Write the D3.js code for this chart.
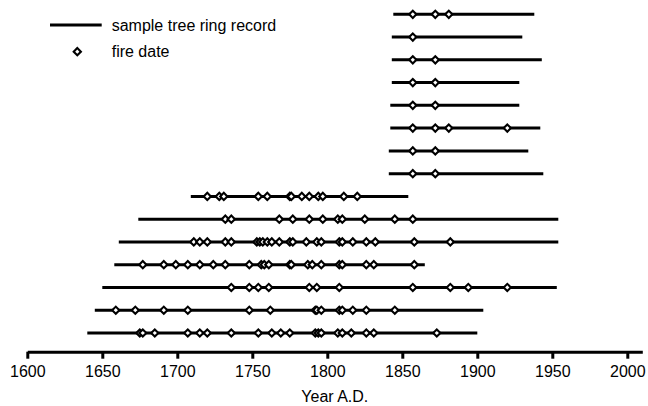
<!DOCTYPE html>
<html>
<head>
<meta charset="utf-8">
<script src="https://cdn.jsdelivr.net/npm/d3@7"></script>
<style>
  body { margin: 0; background: #fff; }
  svg { display: block; font-family: "Liberation Sans", Arial, sans-serif; }
</style>
</head>
<body>
<div id="chart"></div>
<script>
// Samples, top to bottom.
var samples = ["s1", "s2", "s3", "s4", "s5", "s6", "s7", "s8",
               "s9", "s10", "s11", "s12", "s13", "s14", "s15"];

// First and last year of each tree ring record.
var recordStart = [1844, 1843, 1843, 1843, 1842, 1842, 1841, 1841,
                   1709, 1674, 1661, 1658, 1650, 1645, 1640];
var recordEnd = [1938, 1930, 1943, 1928, 1928, 1942, 1934, 1944,
                 1854, 1954, 1954, 1865, 1953, 1904, 1900];

// Fire scar dates for each sample.
var fireYears = [
    [1857, 1872, 1881],
    [1857],
    [1857, 1872],
    [1857, 1872],
    [1857, 1872],
    [1857, 1872, 1881, 1920],
    [1857, 1872],
    [1857, 1872],
    [1720, 1728, 1731, 1754, 1760, 1775, 1776, 1783, 1788, 1794, 1797, 1811, 1820],
    [1732, 1736, 1768, 1777, 1788, 1797, 1807, 1810, 1825, 1845, 1857],
    [1711, 1715, 1720, 1732, 1736, 1753, 1755, 1757, 1760, 1763, 1768, 1775, 1777,
     1786, 1793, 1796, 1808, 1810, 1817, 1826, 1832, 1858, 1882],
    [1677, 1691, 1699, 1707, 1715, 1724, 1732, 1748, 1756, 1758, 1761, 1775, 1776,
     1787, 1790, 1796, 1808, 1810, 1826, 1831, 1858],
    [1736, 1748, 1754, 1761, 1788, 1793, 1808, 1857, 1882, 1894, 1920],
    [1659, 1672, 1691, 1707, 1748, 1762, 1792, 1793, 1796, 1808, 1810, 1817, 1826, 1845],
    [1675, 1677, 1685, 1707, 1715, 1720, 1736, 1754, 1763, 1769, 1775, 1792, 1794,
     1796, 1807, 1810, 1816, 1826, 1831, 1873]
];

var axisTicks = [1600, 1650, 1700, 1750, 1800, 1850, 1900, 1950, 2000];
var legendLabels = ["sample tree ring record", "fire date"];

var width = 648, height = 406;

var svg = d3.select("#chart").append("svg")
    .attr("width", width)
    .attr("height", height);

// Scales.
var x = d3.scaleLinear()
    .domain([1600, 2010])
    .range([27.3, 642.3]);

var y = d3.scalePoint()
    .domain(samples)
    .range([14.3, 333]);

var axisY = 351.7;

// Diamond marker (square turned 45 degrees).
var diamond = d3.symbol().type(d3.symbolSquare).size(26);

// Record lines.
svg.append("g")
    .selectAll("line")
    .data(samples)
    .enter()
    .append("line")
    .attr("x1", (d, i) => x(recordStart[i]))
    .attr("x2", (d, i) => x(recordEnd[i]))
    .attr("y1", d => y(d))
    .attr("y2", d => y(d))
    .attr("stroke", "#000")
    .attr("stroke-width", 3);

// Fire dates.
var fires = [];
samples.forEach((s, i) => {
    fireYears[i].forEach(yr => fires.push({ sample: s, year: yr }));
});

svg.append("g")
    .selectAll("path")
    .data(fires)
    .enter()
    .append("path")
    .attr("d", diamond)
    .attr("transform", d => "translate(" + x(d.year) + "," + y(d.sample) + ") rotate(45)")
    .attr("fill", "#fff")
    .attr("stroke", "#000")
    .attr("stroke-width", 2.1);

// X axis.
var axis = svg.append("g")
    .attr("transform", "translate(0," + axisY + ")")
    .call(d3.axisBottom(x)
        .tickValues(axisTicks)
        .tickFormat(d3.format("d"))
        .tickSize(7)
        .tickSizeOuter(0)
        .tickPadding(7));

axis.select(".domain")
    .attr("stroke", "#000")
    .attr("stroke-width", 3);
axis.selectAll(".tick line")
    .attr("stroke", "#000")
    .attr("stroke-width", 3);
axis.selectAll(".tick text")
    .attr("fill", "#000")
    .style("font-size", "16px")
    .style("font-family", "'Liberation Sans', Arial, sans-serif");

svg.append("text")
    .attr("x", (x.range()[0] + x.range()[1]) / 2)
    .attr("y", 401.7)
    .attr("text-anchor", "middle")
    .style("font-size", "16px")
    .text("Year A.D.");

// Legend.
var legend = svg.append("g");

legend.append("line")
    .attr("x1", 50)
    .attr("x2", 101.7)
    .attr("y1", 25)
    .attr("y2", 25)
    .attr("stroke", "#000")
    .attr("stroke-width", 3);

legend.append("path")
    .attr("d", diamond)
    .attr("transform", "translate(77.3,51.7) rotate(45)")
    .attr("fill", "#fff")
    .attr("stroke", "#000")
    .attr("stroke-width", 2.1);

legend.selectAll("text")
    .data(legendLabels)
    .enter()
    .append("text")
    .attr("x", 111.7)
    .attr("y", (d, i) => i == 0 ? 31 : 57)
    .style("font-size", "16px")
    .text(d => d);
</script>
</body>
</html>
